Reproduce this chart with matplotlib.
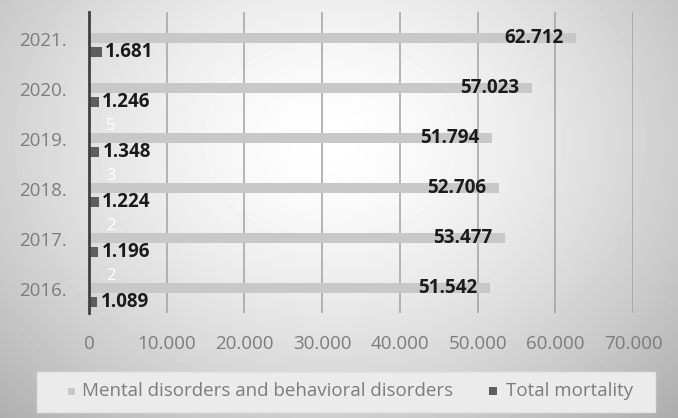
import numpy as np
import matplotlib
matplotlib.use('Agg')
import matplotlib.pyplot as plt
from matplotlib.patches import Rectangle
from matplotlib.transforms import offset_copy

years = ['2016.', '2017.', '2018.', '2019.', '2020.', '2021.']
mental = [51542, 53477, 52706, 51794, 57023, 62712]
mortality = [1089, 1196, 1224, 1348, 1246, 1681]
mental_labels = ['51.542', '53.477', '52.706', '51.794', '57.023', '62.712']
mortality_labels = ['1.089', '1.196', '1.224', '1.348', '1.246', '1.681']
# leftover white labels sitting above the mortality labels
ghost_labels = ['2', '2', '3', '5', '', '']
xticks = [0, 10000, 20000, 30000, 40000, 50000, 60000, 70000]
xtick_labels = ['0', '10.000', '20.000', '30.000', '40.000', '50.000', '60.000', '70.000']

FONT = ['Open Sans', 'DejaVu Sans']
plt.rcParams['font.family'] = FONT
GREY_TXT = '#7c7c7c'
MENTAL_C = '#c8c8c8'
MORT_C = '#5e5e5e'

W, H = 678, 418
fig = plt.figure(figsize=(W / 100, H / 100), dpi=100)

# soft radial background, white in the middle, grey towards the edges
bg = fig.add_axes([0, 0, 1, 1], zorder=-10)
yy, xx = np.mgrid[0:H, 0:W]
r = np.sqrt(((xx - 330) / 400.0) ** 2 + ((yy - 140) / 320.0) ** 2)
shade = 1.0 - 0.24 * np.clip(r, 0, 1.25) ** 1.5
bg.imshow(shade, cmap='gray', vmin=0, vmax=1, aspect='auto', interpolation='bilinear')
bg.axis('off')

ax = fig.add_axes([89 / W, 1 - 313 / H, 544 / W, 301 / H])
ax.patch.set_alpha(0)
y = np.arange(len(years))
h = 0.2
ax.barh(y + 0.14, mental, height=h, color=MENTAL_C, edgecolor='none', zorder=2)
ax.barh(y - 0.14, mortality, height=h, color=MORT_C, edgecolor='none', zorder=2)

for i in range(len(years)):
    ax.text(mental[i] - 1600, y[i] + 0.14, mental_labels[i], ha='right', va='center',
            fontsize=13.5, fontweight='bold', color='#1a1a1a', zorder=3)
    ax.text(mortality[i] + 400, y[i] - 0.14, mortality_labels[i], ha='left', va='center',
            fontsize=13.5, fontweight='bold', color='#1a1a1a', zorder=3)
    if ghost_labels[i]:
        ax.text(2800, y[i] + 0.38, ghost_labels[i], ha='center', va='center',
                fontsize=12, color='white', zorder=3)

ax.set_xlim(0, 70000)
ax.set_ylim(-0.36, 5.66)
ax.set_xticks(xticks)
ax.set_xticklabels(xtick_labels)
ax.set_yticks(y)
ax.set_yticklabels(years)
ax.tick_params(axis='both', length=0, labelsize=13.5, labelcolor=GREY_TXT)
ax.tick_params(axis='x', pad=15.5)
ax.tick_params(axis='y', pad=16)
# year labels sit a little above the middle of each group
for lbl in ax.get_yticklabels():
    lbl.set_transform(offset_copy(lbl.get_transform(), fig=fig, y=4, units='points'))
ax.grid(axis='x', color='#a2a2a2', lw=1.1, zorder=1)
for sp in ('top', 'right', 'bottom'):
    ax.spines[sp].set_visible(False)
ax.spines['left'].set_color('#404040')
ax.spines['left'].set_linewidth(2)
ax.spines['left'].set_zorder(4)

# legend box
fig.patches.append(Rectangle((37 / W, 1 - 412 / H), 618 / W, 40 / H, transform=fig.transFigure,
                             facecolor='#ebebeb', edgecolor='#e4e4e4', lw=1, zorder=0))
fig.patches.append(Rectangle((68 / W, 1 - 395 / H), 7 / W, 7 / H, transform=fig.transFigure,
                             facecolor=MENTAL_C, edgecolor='none'))
fig.text(82 / W, 1 - 391 / H, 'Mental disorders and behavioral disorders', ha='left', va='center',
         fontsize=13.5, color=GREY_TXT)
fig.patches.append(Rectangle((489 / W, 1 - 395 / H), 8 / W, 8 / H, transform=fig.transFigure,
                             facecolor=MORT_C, edgecolor='none'))
fig.text(506 / W, 1 - 391 / H, 'Total mortality', ha='left', va='center',
         fontsize=13.5, color=GREY_TXT)

fig.savefig('out.png', dpi=100)
